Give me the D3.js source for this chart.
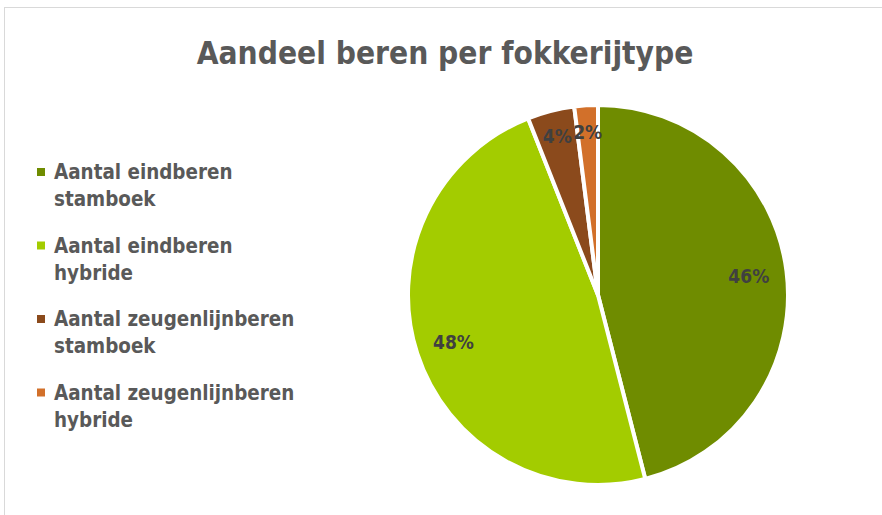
<!DOCTYPE html>
<html>
<head>
<meta charset="utf-8">
<script src="https://cdn.jsdelivr.net/npm/d3@7"></script>
<style>
	html, body { margin: 0; padding: 0; background: #fff; }
</style>
</head>
<body>
<script>
var categories = [
	["Aantal eindberen", "stamboek"],
	["Aantal eindberen", "hybride"],
	["Aantal zeugenlijnberen", "stamboek"],
	["Aantal zeugenlijnberen", "hybride"]
];
var values = [46, 48, 4, 2];
var colors = ["#6f8c00", "#a3cc00", "#8b4a1c", "#d2702a"];

var width = 882,
	height = 515;
var fontFamily = "'DejaVu Sans Condensed', 'DejaVu Sans', sans-serif";

var svg = d3.select("body").append("svg")
	.attr("width", width)
	.attr("height", height);

// chart frame, only top and left edge visible
svg.append("rect")
	.attr("x", 4.5)
	.attr("y", 7.5)
	.attr("width", width)
	.attr("height", height)
	.style("fill", "none")
	.style("stroke", "#d9d9d9")
	.style("stroke-width", 1);

svg.append("text")
	.attr("x", 445)
	.attr("y", 64)
	.attr("text-anchor", "middle")
		.style("font-family", fontFamily)
		.style("font-size", "31.4px")
		.style("font-weight", "bold")
		.style("fill", "#595959")
	.text("Aandeel beren per fokkerijtype");

// pie
var cx = 598, cy = 295, radius = 190;
var total = d3.sum(values);

var pie = d3.pie()
	.sort(null)
	.value(function(d) { return d; });

var arc = d3.arc()
	.innerRadius(0)
	.outerRadius(radius);

var g = svg.append("g")
	.attr("transform", "translate(" + cx + "," + cy + ")");

var arcs = pie(values);

g.selectAll("path.slice")
	.data(arcs)
	.enter().append("path")
	.attr("class", "slice")
	.attr("d", arc)
		.style("fill", function(d, i) { return colors[i]; })
		.style("stroke", "#fff")
		.style("stroke-width", 4)
		.style("stroke-linejoin", "round");

g.selectAll("text.label")
	.data(arcs)
	.enter().append("text")
	.attr("class", "label")
	.attr("transform", function(d) {
		var r = d.value / total < 0.1 ? radius * 0.86 : radius * 0.8;
		var c = d3.arc().innerRadius(r).outerRadius(r).centroid(d);
		return "translate(" + c[0] + "," + c[1] + ")";
	})
	.attr("text-anchor", "middle")
	.attr("dy", "0.35em")
		.style("font-family", fontFamily)
		.style("font-size", "19px")
		.style("font-weight", "bold")
		.style("fill", "#404040")
	.text(function(d) { return Math.round(d.value / total * 100) + "%"; });

// legend
var legend = svg.append("g")
	.attr("transform", "translate(37, 172)");

var item = legend.selectAll("g.item")
	.data(categories)
	.enter().append("g")
	.attr("class", "item")
	.attr("transform", function(d, i) { return "translate(0," + (i * 73.5) + ")"; });

item.append("rect")
	.attr("x", 0)
	.attr("y", -4)
	.attr("width", 8)
	.attr("height", 8)
	.style("fill", function(d, i) { return colors[i]; });

item.append("text")
	.attr("x", 17)
	.attr("y", 7)
		.style("font-family", fontFamily)
		.style("font-size", "20.4px")
		.style("font-weight", "bold")
		.style("fill", "#595959")
	.selectAll("tspan")
	.data(function(d) { return d; })
	.enter().append("tspan")
	.attr("x", 17)
	.attr("dy", function(d, i) { return i === 0 ? 0 : 27; })
	.text(function(d) { return d; });
</script>
</body>
</html>
